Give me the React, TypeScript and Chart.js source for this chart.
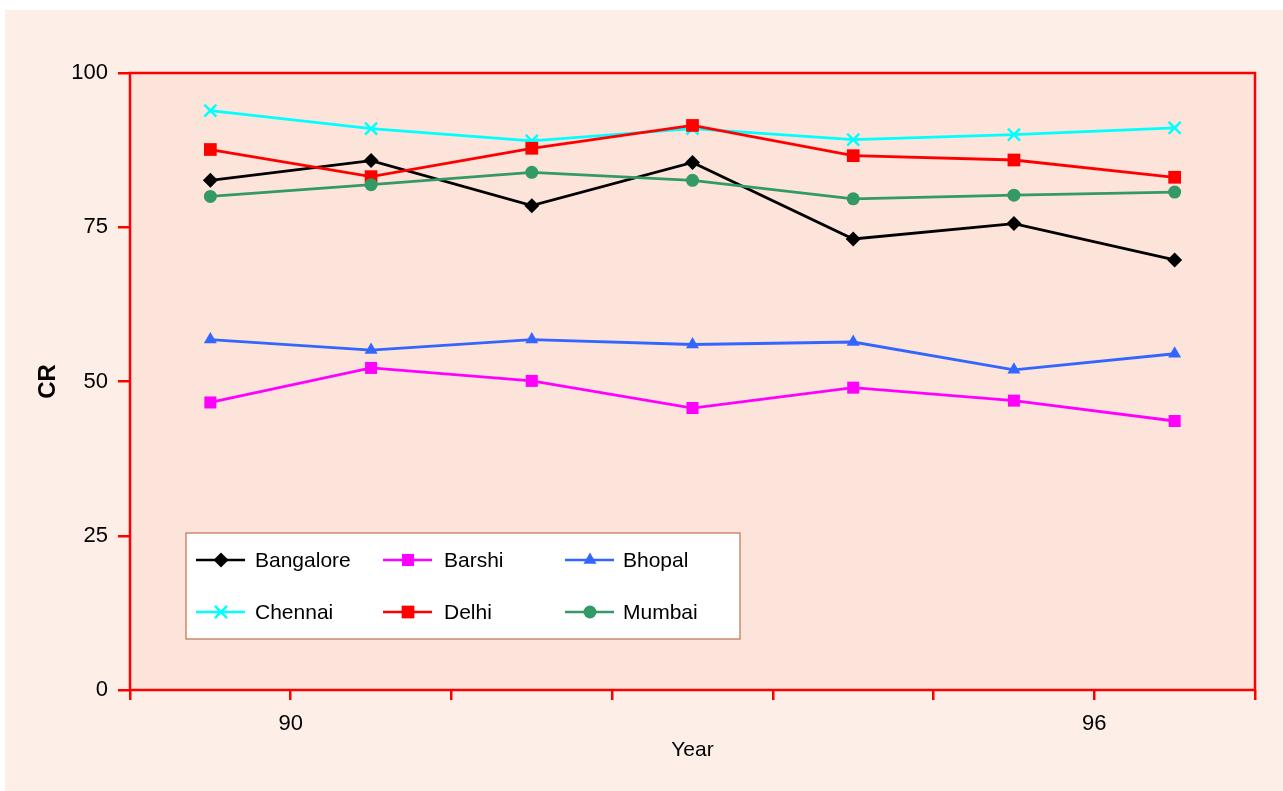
import React, { useEffect, useRef } from "react";
import { Chart, registerables } from "chart.js";

Chart.register(...registerables);

// x positions of the points: centred between the axis tick marks
const xPositions = [0.5, 1.5, 2.5, 3.5, 4.5, 5.5, 6.5];
const xTickValues = [0, 1, 2, 3, 4, 5, 6, 7];
const xTickLabels: Record<number, string> = { 1: "90", 6: "96" };
const yTicks = [0, 25, 50, 75, 100];

const bangalore = [82.6, 85.8, 78.5, 85.5, 73.1, 75.6, 69.7];
const barshi = [46.6, 52.2, 50.1, 45.7, 49.0, 46.9, 43.6];
const bhopal = [56.8, 55.1, 56.8, 56.0, 56.4, 51.9, 54.5];
const chennai = [93.9, 91.0, 89.0, 91.0, 89.2, 90.0, 91.1];
const delhi = [87.6, 83.2, 87.8, 91.5, 86.6, 85.9, 83.1];
const mumbai = [80.0, 81.9, 83.9, 82.6, 79.6, 80.2, 80.7];

const seriesNames = ["Bangalore", "Barshi", "Bhopal", "Chennai", "Delhi", "Mumbai"];
const seriesValues = [bangalore, barshi, bhopal, chennai, delhi, mumbai];
const seriesColors = ["#000000", "#ff00ff", "#3366ff", "#00ffff", "#ff0000", "#339966"];
const seriesMarkers = ["rectRot", "rect", "triangle", "crossRot", "rect", "circle"];
const markerRadii = [7.5, 8.5, 7.5, 8.5, 9, 6.5];

const FONT = "'Liberation Sans', Arial, Helvetica, sans-serif";

function drawMarker(ctx: CanvasRenderingContext2D, style: string, mx: number, cy: number, r: number) {
  ctx.beginPath();
  if (style === "rectRot") {
    ctx.moveTo(mx, cy - r); ctx.lineTo(mx + r, cy); ctx.lineTo(mx, cy + r); ctx.lineTo(mx - r, cy); ctx.closePath(); ctx.fill();
  } else if (style === "rect") {
    const h = r * Math.SQRT1_2;
    ctx.fillRect(mx - h, cy - h, 2 * h, 2 * h);
  } else if (style === "triangle") {
    const w = r * Math.sin(Math.PI / 3);
    ctx.moveTo(mx, cy - r); ctx.lineTo(mx + w, cy + r / 2); ctx.lineTo(mx - w, cy + r / 2); ctx.closePath(); ctx.fill();
  } else if (style === "crossRot") {
    const h = r * Math.SQRT1_2;
    ctx.lineWidth = 2.5;
    ctx.moveTo(mx - h, cy - h); ctx.lineTo(mx + h, cy + h);
    ctx.moveTo(mx + h, cy - h); ctx.lineTo(mx - h, cy + h);
    ctx.stroke();
  } else {
    ctx.arc(mx, cy, r, 0, Math.PI * 2); ctx.fill();
  }
}

export default function App() {
  const ref = useRef<HTMLCanvasElement | null>(null);

  useEffect(() => {
    if (!ref.current) return;

    const bgPlugin = {
      id: "bgPanel",
      beforeDraw(chart: any) {
        const { ctx, chartArea } = chart;
        ctx.save();
        ctx.fillStyle = "#ffffff";
        ctx.fillRect(0, 0, chart.width, chart.height);
        ctx.fillStyle = "#fdefe8";
        ctx.fillRect(5, 10, chart.width - 5, chart.height - 10);
        ctx.fillStyle = "#fde4da";
        ctx.fillRect(chartArea.left, chartArea.top, chartArea.right - chartArea.left, chartArea.bottom - chartArea.top);
        ctx.restore();
      },
      beforeDatasetsDraw(chart: any) {
        const { ctx, chartArea } = chart;
        ctx.save();
        ctx.strokeStyle = "#ff0000";
        ctx.lineWidth = 2.5;
        ctx.strokeRect(chartArea.left, chartArea.top, chartArea.right - chartArea.left, chartArea.bottom - chartArea.top);
        ctx.restore();
      },
    };

    const legendPlugin = {
      id: "boxLegend",
      afterDraw(chart: any) {
        const { ctx, chartArea } = chart;
        const left = chartArea.left + 56;
        const top = chartArea.top + 460;
        const w = 554;
        const h = 106;
        ctx.save();
        ctx.fillStyle = "#ffffff";
        ctx.fillRect(left, top, w, h);
        ctx.strokeStyle = "#c0714d";
        ctx.lineWidth = 1.2;
        ctx.strokeRect(left, top, w, h);
        const lineX = [10, 197, 379];
        const textX = [69, 258, 437];
        const rowY = [27, 79];
        ctx.font = `21px ${FONT}`;
        ctx.textBaseline = "middle";
        seriesNames.forEach((name, i) => {
          const cx = left + lineX[i % 3];
          const cy = top + rowY[Math.floor(i / 3)];
          ctx.strokeStyle = seriesColors[i];
          ctx.fillStyle = seriesColors[i];
          ctx.lineWidth = 2.5;
          ctx.beginPath();
          ctx.moveTo(cx, cy);
          ctx.lineTo(cx + 49, cy);
          ctx.stroke();
          drawMarker(ctx, seriesMarkers[i], cx + 25, cy, markerRadii[i]);
          ctx.fillStyle = "#000000";
          ctx.textAlign = "left";
          ctx.fillText(name, left + textX[i % 3], cy + 1);
        });
        ctx.restore();
      },
    };

    const chart = new Chart(ref.current, {
      type: "line",
      data: {
        datasets: seriesNames.map((name, i) => ({
          label: name,
          order: seriesNames.length - i,
          data: xPositions.map((x, j) => ({ x, y: seriesValues[i][j] })),
          borderColor: seriesColors[i],
          backgroundColor: seriesColors[i],
          pointBackgroundColor: seriesColors[i],
          pointBorderColor: seriesColors[i],
          pointStyle: seriesMarkers[i] as any,
          pointRadius: markerRadii[i],
          pointBorderWidth: seriesMarkers[i] === "crossRot" ? 2.5 : 0,
          borderWidth: 2.8,
          tension: 0,
          fill: false,
        })),
      },
      options: {
        animation: false,
        responsive: false,
        maintainAspectRatio: false,
        layout: { padding: { left: 0, top: 73, right: 28, bottom: 0 } },
        plugins: {
          legend: { display: false },
          tooltip: { enabled: false },
        },
        scales: {
          x: {
            type: "linear",
            min: 0,
            max: 7,
            afterBuildTicks: (axis: any) => {
              axis.ticks = xTickValues.map((v) => ({ value: v }));
            },
            afterFit: (axis: any) => { axis.height = 101; },
            border: { display: false },
            grid: {
              drawOnChartArea: false,
              drawTicks: true,
              tickLength: 10,
              color: "#ff0000",
              lineWidth: 2.5,
            },
            ticks: {
              autoSkip: false,
              maxRotation: 0,
              padding: 11,
              color: "#000000",
              font: { family: FONT, size: 22 },
              callback: (v: any) => xTickLabels[Number(v)] ?? "",
            },
            title: {
              display: true,
              text: "Year",
              color: "#000000",
              font: { family: FONT, size: 21 },
              padding: { top: 4, bottom: 28 },
            },
          },
          y: {
            min: 0,
            max: 100,
            afterBuildTicks: (axis: any) => {
              axis.ticks = yTicks.map((v) => ({ value: v }));
            },
            afterFit: (axis: any) => { axis.width = 130; },
            border: { display: false },
            grid: {
              drawOnChartArea: false,
              drawTicks: true,
              tickLength: 12,
              color: "#ff0000",
              lineWidth: 2.5,
            },
            ticks: {
              padding: 10,
              color: "#000000",
              font: { family: FONT, size: 22 },
            },
            title: {
              display: true,
              text: "CR",
              color: "#000000",
              font: { family: FONT, size: 24, weight: "bold" },
              padding: { top: 34, bottom: 0 },
            },
          },
        },
      },
      plugins: [bgPlugin, legendPlugin],
    } as any);

    return () => chart.destroy();
  }, []);

  return (
    <div style={{ position: "fixed", left: 0, top: 0, width: 1283, height: 791, background: "#ffffff" }}>
      <canvas ref={ref} width={1283} height={791} style={{ width: 1283, height: 791, display: "block" }} />
    </div>
  );
}
